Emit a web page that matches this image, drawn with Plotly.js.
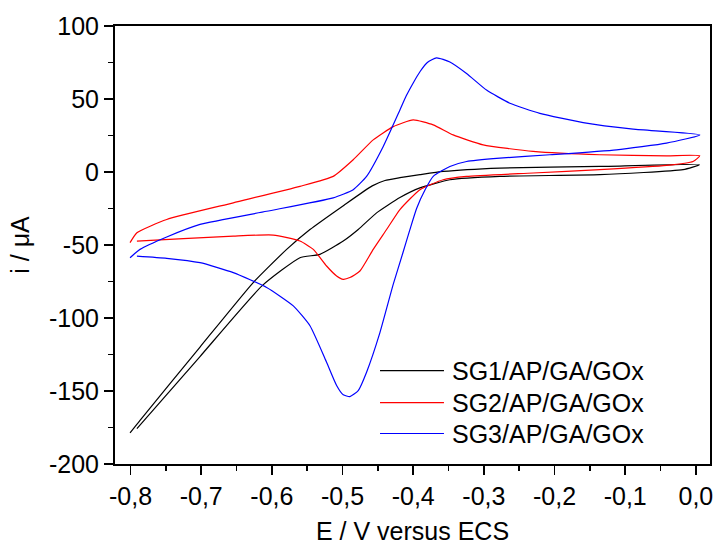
<!DOCTYPE html>
<html>
<head>
<meta charset="utf-8">
<script src="https://cdn.plot.ly/plotly-3.0.1.min.js"></script>
<style>html,body{margin:0;padding:0;background:#fff;}#chart{width:716px;height:545px;}</style>
</head>
<body>
<div id="chart"></div>
<script>
// SG1/AP/GA/GOx (black): lower branch left->right, then upper branch right->left
const sg1E = [-0.791, -0.7017, -0.614, -0.5603, -0.532, -0.499, -0.4778, -0.4518, -0.4188, -0.3905, -0.3481, -0.2774, -0.1359, -0.0181, 0.005,
              -0.1359, -0.2774, -0.3576, -0.3905, -0.4188, -0.44, -0.458, -0.4979, -0.5461, -0.5791, -0.6267, -0.7017, -0.7866, -0.8007];
const sg1I = [-175.8, -126.4, -78.0, -58.7, -56.4, -47.3, -39.4, -28.0, -17.5, -10.9, -5.3, -3.0, -1.8, 1.6, 5.0,
              3.8, 2.7, 0.4, -1.8, -3.9, -5.8, -9.5, -22.7, -39.4, -53.0, -75.9, -119.9, -170.1, -178.7];

// SG2/AP/GA/GOx (red): upper branch left->right, then lower branch right->left
const sg2E = [-0.8007, -0.791, -0.7488, -0.6546, -0.5603, -0.5132, -0.4849, -0.4566, -0.4283, -0.4, -0.3717, -0.3434, -0.301, -0.2303, -0.1359, -0.0416, 0.0055,
              -0.004, -0.0416, -0.1359, -0.2303, -0.3245, -0.3576, -0.3905, -0.4188, -0.4377, -0.4566, -0.4754, -0.4896, -0.499, -0.5084, -0.5226, -0.5414, -0.5603, -0.598, -0.6546, -0.7253, -0.791];
const sg2I = [-48.4, -41.6, -32.5, -21.1, -9.8, -3.0, 8.4, 22.0, 31.1, 35.7, 32.3, 25.4, 18.6, 14.1, 11.8, 11.1, 11.1,
              7.2, 4.5, 1.6, -0.7, -3.0, -5.3, -12.1, -25.7, -39.4, -53.0, -67.8, -72.3, -73.5, -71.2, -64.4, -53.0, -47.3, -43.2, -43.9, -45.7, -47.3];

// SG3/AP/GA/GOx (blue): upper branch left->right, then lower branch right->left
const sg3E = [-0.8007, -0.7866, -0.7488, -0.7017, -0.6074, -0.5132, -0.4849, -0.466, -0.4424, -0.4188, -0.41, -0.40, -0.39, -0.38, -0.367, -0.3481, -0.3245, -0.2962, -0.2632, -0.2208, -0.1595, -0.0888, 0.0055,
              -0.0416, -0.1123, -0.2067, -0.2774, -0.3245, -0.3481, -0.3717, -0.383, -0.3952, -0.405, -0.415, -0.4283, -0.4471, -0.466, -0.4778, -0.4896, -0.499, -0.5084, -0.5226, -0.5461, -0.5697, -0.6074, -0.6546, -0.7017, -0.7488, -0.791];
const sg3I = [-58.7, -53.0, -44.5, -35.9, -26.9, -17.7, -12.1, -3.0, 17.5, 42.5, 52.0, 61.0, 69.0, 75.0, 78.2, 75.4, 67.5, 56.1, 47.1, 40.2, 33.8, 29.3, 25.4,
              19.8, 15.2, 11.8, 9.5, 7.2, 3.8, -3.0, -12.0, -25.0, -40.0, -56.0, -77.0, -110.0, -137.1, -149.7, -153.8, -152.6, -146.2, -130.3, -105.3, -91.7, -79.1, -68.9, -62.1, -59.1, -57.6];

const seriesNames = ['SG1/AP/GA/GOx', 'SG2/AP/GA/GOx', 'SG3/AP/GA/GOx'];
const seriesColors = ['#000000', '#ff0000', '#0000ff'];

const xTickVals = [-0.8, -0.7, -0.6, -0.5, -0.4, -0.3, -0.2, -0.1, 0.0];
const xTickText = ['-0,8', '-0,7', '-0,6', '-0,5', '-0,4', '-0,3', '-0,2', '-0,1', '0,0'];
const yTickVals = [-200, -150, -100, -50, 0, 50, 100];
const yTickText = ['-200', '-150', '-100', '-50', '0', '50', '100'];

const xs = [sg1E, sg2E, sg3E];
const ys = [sg1I, sg2I, sg3I];

const traces = xs.map((x, k) => ({
  x: x, y: ys[k], type: 'scatter', mode: 'lines', name: seriesNames[k],
  line: {color: seriesColors[k], width: 1.2, shape: 'spline', smoothing: 0.5}
}));

const fontFam = 'Arial, "Liberation Sans", sans-serif';
const FS = 25;

// hand-made legend (paper coordinates): key line from keyX0 to keyX1, label at labelX
const keyX0 = 0.4454, keyX1 = 0.5529, labelX = 0.5625;
const keyY = [0.2132, 0.1403, 0.0696];
const legendShapes = seriesNames.map((n, k) => ({
  type: 'line', xref: 'paper', yref: 'paper', layer: 'above',
  x0: keyX0, x1: keyX1, y0: keyY[k], y1: keyY[k],
  line: {color: seriesColors[k], width: 1.2}
}));
const legendLabels = seriesNames.map((n, k) => ({
  xref: 'paper', yref: 'paper', x: labelX, y: keyY[k], xanchor: 'left', yanchor: 'middle',
  text: n, showarrow: false, font: {family: fontFam, size: FS, color: '#000'}
}));

const layout = {
  width: 716, height: 545,
  margin: {l: 115, r: 6, t: 26, b: 81, pad: 0},
  paper_bgcolor: '#ffffff', plot_bgcolor: '#ffffff',
  font: {family: fontFam, size: FS, color: '#000'},
  showlegend: false,
  shapes: legendShapes,
  annotations: legendLabels,
  xaxis: {
    range: [-0.822, 0.02], tickmode: 'array', tickvals: xTickVals, ticktext: xTickText,
    showgrid: false, zeroline: false,
    showline: true, linecolor: '#000', linewidth: 2, mirror: true,
    ticks: 'outside', ticklen: 9, tickwidth: 1.5, tickcolor: '#000',
    minor: {ticks: 'outside', dtick: 0.05, tick0: 0, ticklen: 5, tickwidth: 1.5, tickcolor: '#000', showgrid: false},
    tickfont: {family: fontFam, size: FS, color: '#000'},
    title: {text: 'E / V versus ECS', font: {family: fontFam, size: FS, color: '#000'}, standoff: 16}
  },
  yaxis: {
    range: [-200, 100], tickmode: 'array', tickvals: yTickVals, ticktext: yTickText,
    showgrid: false, zeroline: false,
    showline: true, linecolor: '#000', linewidth: 2, mirror: true,
    ticks: 'outside', ticklen: 9, tickwidth: 1.5, tickcolor: '#000',
    minor: {ticks: 'outside', dtick: 25, tick0: 0, ticklen: 5, tickwidth: 1.5, tickcolor: '#000', showgrid: false},
    tickfont: {family: fontFam, size: FS, color: '#000'},
    title: {text: 'i / μA', font: {family: fontFam, size: FS, color: '#000'}, standoff: 12}
  }
};

Plotly.newPlot('chart', traces, layout, {displayModeBar: false, staticPlot: true});
</script>
</body>
</html>
